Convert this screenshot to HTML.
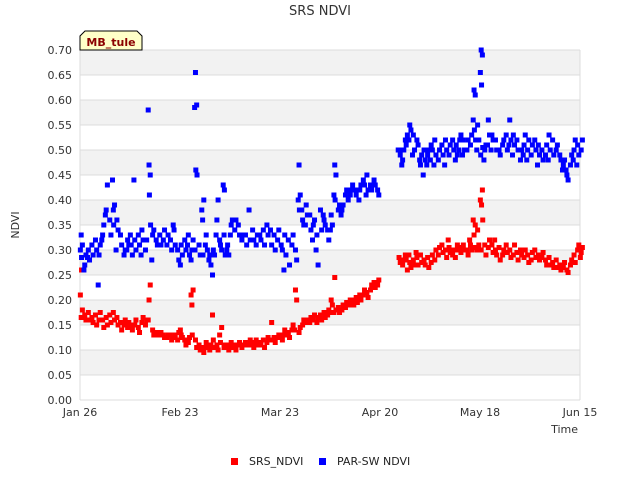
<!DOCTYPE html>
<html><head><meta charset="utf-8"><style>
body{margin:0;background:#fff;font-family:"Liberation Sans","DejaVu Sans",sans-serif}
svg text{font-family:"DejaVu Sans","Liberation Sans",sans-serif}
</style></head><body>
<svg id="chart" width="640" height="480" xmlns="http://www.w3.org/2000/svg">
<text x="320" y="15" text-anchor="middle" font-size="13" fill="#333">SRS NDVI</text>
<text x="19" y="225" text-anchor="middle" font-size="11" fill="#333" transform="rotate(-90 19 225)">NDVI</text>
<text x="578" y="433" text-anchor="end" font-size="11" fill="#333">Time</text>
<g id="bands"></g><g id="grid"></g><g id="ylabels"></g><g id="xlabels"></g>
<g id="srs"></g><g id="par"></g>
<g>
<polygon points="80,50 80,36 85,31 137,31 142,36 142,50" fill="#ffffc8" stroke="#000" stroke-width="1"/>
<text x="111" y="46" text-anchor="middle" font-size="11" font-weight="bold" fill="#8b0000">MB_tule</text>
</g>
<g>
<g><rect x="231" y="458" width="7" height="7" fill="#f00"/><text x="249" y="465" font-size="11" fill="#222">SRS_NDVI</text></g>
<g><rect x="319" y="458" width="7" height="7" fill="#00f"/><text x="337" y="465" font-size="11" fill="#222">PAR-SW NDVI</text></g>
</g>
</svg>
<script>
const yTicks=[0,0.05,0.10,0.15,0.20,0.25,0.30,0.35,0.40,0.45,0.50,0.55,0.60,0.65,0.70];
const xTickDays=[0,28,56,84,112,140];
const xTickLabels=["Jan 26","Feb 23","Mar 23","Apr 20","May 18","Jun 15"];
const srsData=[[0,.165,.18,.21,.26],[1,.17,.16],[2,.175,.16],[3,.165,.155],[4,.17,.15],[5,.16,.175],[6,.16,.145],[7,.165,.15],[8,.17,.155],[9,.175,.16],[10,.165,.15],[11,.155,.14],[12,.15,.16],[13,.145,.155],[14,.15,.14],[15,.15,.16],[16,.145,.135],[17,.155,.165],[18,.15,.16],[19,.20,.23,.16],[20,.14,.13],[21,.135,.13],[22,.13,.135],[23,.13,.125],[24,.125,.13],[25,.13,.12],[26,.125,.13],[27,.12,.135],[28,.13,.125,.14],[29,.12,.11],[30,.115,.125],[31,.19,.22,.21,.13],[32,.12,.105],[33,.11,.10],[34,.105,.095],[35,.115,.105],[36,.10,.11],[37,.12,.105,.17],[38,.11,.10],[39,.115,.145,.13],[40,.105,.11],[41,.11,.10],[42,.115,.105],[43,.11,.10],[44,.11,.115],[45,.105,.11],[46,.115,.11],[47,.11,.12],[48,.115,.105],[49,.12,.11],[50,.11,.115],[51,.12,.105],[52,.115,.125],[53,.12,.155],[54,.125,.115],[55,.125,.13],[56,.13,.12],[57,.14,.13],[58,.135,.125],[59,.14,.15],[60,.22,.2,.14],[61,.135,.145],[62,.15,.16],[63,.16,.155],[64,.155,.165],[65,.16,.17],[66,.155,.165],[67,.17,.16],[68,.175,.165],[69,.17,.18],[70,.2,.19,.175],[71,.245,.18,.175],[72,.185,.175],[73,.18,.19],[74,.185,.195],[75,.19,.2],[76,.2,.19],[77,.205,.195],[78,.21,.2],[79,.21,.22],[80,.215,.205],[81,.22,.23],[82,.235,.225],[83,.23,.24],[89,.285,.275],[90,.27,.28],[91,.28,.26,.29],[92,.275,.265,.29],[93,.28,.27],[94,.285,.27,.295],[95,.29,.275],[96,.28,.27],[97,.285,.265],[98,.275,.29],[99,.28,.3],[100,.29,.305],[101,.31,.295],[102,.3,.285],[103,.305,.295,.32],[104,.29,.3],[105,.3,.31,.285],[106,.305,.295],[107,.31,.3],[108,.3,.29],[109,.31,.3,.32],[110,.33,.35,.36,.305],[111,.34,.31,.3],[112,.3,.42,.4,.39,.36],[113,.31,.29],[114,.305,.32],[115,.31,.295],[116,.3,.29,.32],[117,.305,.28],[118,.29,.3],[119,.31,.295],[120,.3,.285],[121,.29,.31],[122,.295,.28],[123,.3,.29],[124,.285,.3],[125,.29,.275],[126,.28,.295],[127,.3,.285],[128,.29,.28],[129,.285,.295],[130,.28,.27],[131,.285,.27],[132,.275,.265],[133,.28,.265],[134,.27,.26],[135,.265,.275],[136,.26,.255],[137,.27,.28],[138,.29,.275],[139,.3,.31],[140,.295,.305,.285]];
const parData=[[0,.33,.31,.3,.285],[1,.27,.29,.26],[2,.3,.28,.285],[3,.31,.29],[4,.32,.3],[5,.29,.31,.23],[6,.33,.35,.32],[7,.38,.43,.37],[8,.36,.33],[9,.38,.39,.44,.35],[10,.36,.34,.3],[11,.33,.31],[12,.29,.3],[13,.32,.31,.3],[14,.31,.29,.33],[15,.32,.3,.44],[16,.33,.31],[17,.34,.32,.29],[18,.3,.32],[19,.47,.45,.58,.41,.35],[20,.33,.34,.28],[21,.32,.31],[22,.33,.31],[23,.32,.34],[24,.31,.33],[25,.32,.3],[26,.34,.31,.35],[27,.3,.28],[28,.31,.29,.27],[29,.32,.3],[30,.33,.29,.31],[31,.3,.32,.28],[32,.655,.59,.585,.46,.45,.3],[33,.31,.29],[34,.36,.4,.38,.29],[35,.33,.3,.31],[36,.29,.27,.28],[37,.3,.29,.25],[38,.36,.4,.33],[39,.31,.3,.32],[40,.33,.29,.43,.42],[41,.31,.29,.3],[42,.35,.36,.33],[43,.34,.36],[44,.35,.33],[45,.32,.33],[46,.33,.31],[47,.38,.32],[48,.34,.32],[49,.31,.33],[50,.33,.32],[51,.34,.31],[52,.35,.33],[53,.34,.31],[54,.33,.3],[55,.32,.34],[56,.31,.3],[57,.33,.29,.26],[58,.32,.27],[59,.31,.33],[60,.3,.28],[61,.47,.41,.4,.38],[62,.36,.35,.38],[63,.39,.37,.35],[64,.37,.34],[65,.35,.36,.32],[66,.33,.27,.3],[67,.38,.34],[68,.36,.35,.37],[69,.34,.32],[70,.37,.35,.34],[71,.47,.45,.41,.4],[72,.38,.39],[73,.38,.39,.37],[74,.41,.42],[75,.42,.41,.4],[76,.43,.42],[77,.41,.42],[78,.42,.43,.4],[79,.44,.43],[80,.45,.42,.41],[81,.43,.42],[82,.44,.43],[83,.42,.41],[89,.5,.49,.5],[90,.48,.5,.47],[91,.51,.53,.52],[92,.55,.54,.52],[93,.53,.5,.49],[94,.52,.51],[95,.47,.49,.48],[96,.5,.48,.45],[97,.49,.5,.47],[98,.51,.5,.48],[99,.52,.49,.47],[100,.48,.5],[101,.51,.49],[102,.52,.5,.47],[103,.49,.51],[104,.52,.5],[105,.51,.49,.48],[106,.52,.53,.5],[107,.52,.5,.49],[108,.5,.52],[109,.51,.53],[110,.62,.61,.56,.54,.52],[111,.55,.52,.5],[112,.7,.69,.655,.63,.505,.49],[113,.5,.51,.48],[114,.56,.53,.51],[115,.53,.52,.5],[116,.52,.5],[117,.5,.49],[118,.51,.52],[119,.53,.5],[120,.56,.52,.51],[121,.53,.51,.49],[122,.52,.5],[123,.48,.5],[124,.51,.53,.49],[125,.5,.52,.48],[126,.49,.51],[127,.52,.5],[128,.51,.49,.47],[129,.5,.48],[130,.49,.51],[131,.53,.5,.48],[132,.52,.49],[133,.5,.51],[134,.49,.48],[135,.47,.48,.46],[136,.45,.44,.46],[137,.47,.49],[138,.5,.52,.48],[139,.51,.49,.47],[140,.5,.52]];
const NS="http://www.w3.org/2000/svg";
const X0=80,X1=580,Y0=400,Y1=50,DMAX=140,VMAX=0.70;
function xs(d){return X0+(d/DMAX)*(X1-X0);}
function ys(v){return Y0-(v/VMAX)*(Y0-Y1);}
function mk(tag,attrs,parent){const e=document.createElementNS(NS,tag);for(const k in attrs)e.setAttribute(k,attrs[k]);parent.appendChild(e);return e;}
const bands=document.getElementById('bands'),grid=document.getElementById('grid'),yl=document.getElementById('ylabels'),xl=document.getElementById('xlabels');
for(let i=0;i<yTicks.length-1;i++){
  if(i%2===1){const r=mk('rect',{x:X0,y:ys(yTicks[i+1]),width:X1-X0,height:ys(yTicks[i])-ys(yTicks[i+1]),fill:'#f2f2f2'},bands);
  
  }
}
yTicks.forEach(t=>{
  const l=mk('line',{x1:X0,x2:X1,y1:ys(t),y2:ys(t),stroke:'#dcdcdc','stroke-width':1},grid);
  
  
  const tx=mk('text',{x:X0-8,y:ys(t)+4,'text-anchor':'end','font-size':11,fill:'#333'},yl);
  tx.textContent=t.toFixed(2);
  
  
});
mk('line',{x1:X0,x2:X0,y1:Y1,y2:Y0,stroke:'#dcdcdc'},grid);
mk('line',{x1:X1,x2:X1,y1:Y1,y2:Y0,stroke:'#dcdcdc'},grid);
xTickDays.forEach((d,i)=>{
  const tx=mk('text',{x:xs(d),y:Y0+16,'text-anchor':'middle','font-size':11,fill:'#333'},xl);
  tx.textContent=xTickLabels[i];
  
  
});
function drawSeries(data,gid,color,name){
  const g=document.getElementById(gid);
  data.forEach(row=>{
    const d=row[0];
    for(let k=1;k<row.length;k++){
      const off=((k*0.37)%1)*0.9;
      const r=mk('rect',{x:xs(d+off)-2.5,y:ys(row[k])-2.5,width:5,height:5,fill:color},g);
      
      
    }
  });
}
drawSeries(srsData,'srs','#ff0000','srs-ndvi-point');
drawSeries(parData,'par','#0000ff','par-sw-ndvi-point');
</script>
</body></html>
